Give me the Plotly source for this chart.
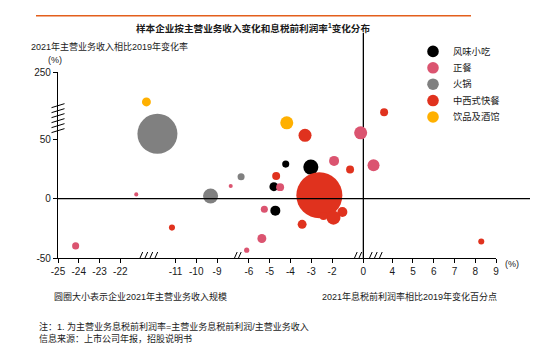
import plotly.graph_objects as go

# ---------------- data ----------------
legend_names = ["风味小吃", "正餐", "火锅", "中西式快餐", "饮品及酒馆"]

# x: change of EBIT margin 2021 vs 2019 (pp); y: revenue change 2021 vs 2019 (%); rev: bubble size (revenue scale)
snack_x = [-4.23, -3.02, -4.80, -4.73]
snack_y = [29.1, 26.6, 10.1, -10.1]
snack_rev = [15, 68, 24, 30]

dining_x = [-0.13, 0.49, -1.90, -4.50, -6.88, -5.26, -5.38, -6.11, -21.23, -24.15]
dining_y = [55.5, 28.2, 31.8, 9.7, 10.6, -9.0, -33.6, -43.4, 3.6, -39.8]
dining_rev = [51, 43, 30, 19, 5, 15, 24, 8, 5, 15]

hotpot_x = [-11.87, -6.38, -9.31]
hotpot_y = [54.6, 18.5, 2.2]
hotpot_rev = [480, 15, 68]

fast_x = [-2.61, -3.30, 1.00, -0.64, -4.69, -1.50, -1.93, -2.41, -3.44, -11.17, 8.29]
fast_y = [2.8, 53.4, 72.8, 24.6, 19.0, -11.3, -16.0, -14.6, -21.6, -24.4, -36.1]
fast_rev = [635, 51, 19, 19, 19, 30, 59, 19, 24, 11, 11]

drink_x = [-12.4, -4.18]
drink_y = [81.5, 63.9]
drink_rev = [24, 51]

x_tick_values = [-25, -24, -23, -22, -11, -10, -9, -6, -5, -4, -3, -2, 0, 4, 5, 6, 7, 8, 9]
y_tick_values = [-50, 0, 50, 250]

# ---------------- broken-axis mapping ----------------
# (data_lo, data_hi, offset): virtual = data + offset
X_SEGMENTS = [(-40, -18, 25.0), (-18, -7.5, 16.66), (-7.5, -0.8, 15.2), (-0.8, 2.5, 14.71), (2.5, 40, 12.1)]
Y_BREAK, Y_TOP, Y_TOP_V = 100.0, 250.0, 106.7


def xv(x):
    for lo, hi, off in X_SEGMENTS:
        if lo <= x < hi:
            return x + off
    return x


def yv(y):
    if y <= Y_BREAK:
        return y
    return Y_BREAK + (y - Y_BREAK) * (Y_TOP_V - Y_BREAK) / (Y_TOP - Y_BREAK)


# ---------------- layout geometry ----------------
W, H = 556, 351
ML, MR, MT, MB = 58, 60, 72.3, 92.5
PW, PH = W - ML - MR, H - MT - MB
PLOT_BOTTOM = H - MB


def px(p):
    return (p - ML) / PW


def py(p):
    return (PLOT_BOTTOM - p) / PH


FONT = "Liberation Sans, Arial, Noto Sans CJK SC, sans-serif"
TXT = "#1a1a1a"
colors = ["#000000", "#DB5470", "#808080", "#E0321E", "#FFB000"]

series = [
    (snack_x, snack_y, snack_rev),
    (dining_x, dining_y, dining_rev),
    (hotpot_x, hotpot_y, hotpot_rev),
    (fast_x, fast_y, fast_rev),
    (drink_x, drink_y, drink_rev),
]

max_rev = max(max(s[2]) for s in series)
D_MAX = 46.0
sizeref = 2.0 * max_rev / (D_MAX ** 2)

fig = go.Figure()
for name, col, (sx, sy, sr) in zip(legend_names, colors, series):
    fig.add_trace(go.Scatter(
        x=[xv(v) for v in sx], y=[yv(v) for v in sy], mode="markers", name=name,
        marker=dict(size=sr, sizemode="area", sizeref=sizeref, color=col, opacity=1,
                    line=dict(width=0)),
        showlegend=False, cliponaxis=False, hoverinfo="skip",
    ))

shapes = []
# zero lines
shapes.append(dict(type="line", xref="x", yref="paper", x0=xv(0), x1=xv(0), y0=0, y1=py(33),
                   line=dict(color="black", width=1.3), layer="below"))
shapes.append(dict(type="line", xref="paper", yref="y", x0=0, x1=px(530), y0=0, y1=0,
                   line=dict(color="black", width=1.3), layer="above"))
# top orange rule
shapes.append(dict(type="line", xref="paper", yref="paper", x0=px(36), x1=px(471), y0=py(16), y1=py(16),
                   line=dict(color="#E35F1C", width=1.5)))

# x-axis break marks (groups of slashes)
BREAK_X_PX = [[140, 145, 150, 155], [234.5, 238.5], [354.5, 359], [369.5, 374.5, 379.5]]
for grp in BREAK_X_PX:
    for cx in grp:
        shapes.append(dict(type="line", xref="x", yref="y", xsizemode="pixel", ysizemode="pixel",
                           xanchor=(cx - ML) / PW * 21.1, yanchor=-50,
                           x0=-2.7, x1=2.7, y0=-6, y1=6, line=dict(color="black", width=1)))
# y-axis break marks
for cy in [106, 111, 116, 121, 126, 131]:
    shapes.append(dict(type="line", xref="paper", yref="paper", xsizemode="pixel", ysizemode="pixel",
                       xanchor=0, yanchor=py(cy), x0=-6.5, x1=6.5, y0=-2, y1=2,
                       line=dict(color="black", width=1)))

# manual legend markers
LEG_Y0, LEG_DY = 51.7, 16.4
for i, col in enumerate(colors):
    shapes.append(dict(type="circle", xref="paper", yref="paper", xsizemode="pixel", ysizemode="pixel",
                       xanchor=px(433), yanchor=py(LEG_Y0 + i * LEG_DY), x0=-5.8, x1=5.8, y0=-5.8, y1=5.8,
                       fillcolor=col, line=dict(width=0)))

annotations = []
for i, name in enumerate(legend_names):
    annotations.append(dict(text=name, xref="paper", yref="paper", x=px(451), y=py(LEG_Y0 + i * LEG_DY),
                            xanchor="left", yanchor="middle", showarrow=False,
                            font=dict(size=9.3, color=TXT, family=FONT)))


def note(text, x, y, anchor="left", size=9, bold=False):
    annotations.append(dict(text=("<b>%s</b>" % text) if bold else text, xref="paper", yref="paper",
                            x=px(x), y=py(y), xanchor=anchor, yanchor="middle", showarrow=False,
                            font=dict(size=size, color=TXT, family=FONT)))


note("样本企业按主营业务收入变化和息税前利润率<sup>1</sup>变化分布", 253, 28, "center", 9.6, True)
note("2021年主营业务收入相比2019年变化率", 29, 47)
note("(%)", 46, 60)
note("(%)", 503, 265)
note("圆圈大小表示企业2021年主营业务收入规模", 52, 297)
note("2021年息税前利润率相比2019年变化百分点", 320, 297)
note("注：1. 为主营业务息税前利润率=主营业务息税前利润/主营业务收入", 37, 327, size=9)
note("信息来源：上市公司年报，招股说明书", 37, 339, size=9)

fig.update_layout(
    width=W, height=H, margin=dict(l=ML, r=MR, t=MT, b=MB, pad=0),
    paper_bgcolor="white", plot_bgcolor="white",
    font=dict(family=FONT, size=10, color=TXT),
    shapes=shapes, annotations=annotations, showlegend=False,
    xaxis=dict(range=[xv(-25), xv(9)], showgrid=False, zeroline=False, showline=True,
               linecolor="black", linewidth=1.3, ticks="outside", ticklen=4, tickcolor="black",
               tickvals=[xv(v) for v in x_tick_values], ticktext=[str(v) for v in x_tick_values],
               tickfont=dict(size=10, color=TXT)),
    yaxis=dict(range=[yv(-50), yv(250)], showgrid=False, zeroline=False, showline=True,
               linecolor="black", linewidth=1.3, ticks="outside", ticklen=4, tickcolor="black",
               tickvals=[yv(v) for v in y_tick_values], ticktext=[str(v) for v in y_tick_values],
               tickfont=dict(size=10, color=TXT)),
)

fig.write_html("out.html")
